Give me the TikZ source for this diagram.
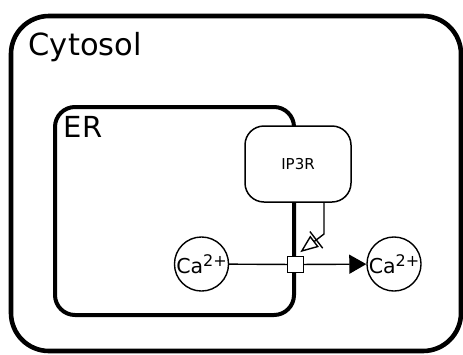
\documentclass[tikz,border=0pt]{standalone}
\usepackage{fontspec}
\setmainfont{DejaVu Sans}
\usetikzlibrary{arrows.meta}

\newcommand{\calcium}{Ca\raisebox{7.5pt}{\fontsize{16}{16}\selectfont 2+}}

\begin{document}
\begin{tikzpicture}[x=1pt,y=-1pt,
    compartment/.style={draw,rounded corners=38pt,line width=4.6pt,
      inner sep=0pt},
    label/.style={anchor=base west,inner sep=0pt},
    macromolecule/.style={draw,fill=white,rounded corners=19pt,
      line width=1.5pt,minimum width=106pt,minimum height=76pt,
      font=\fontsize{15}{18}\selectfont},
    species/.style={draw,fill=white,circle,line width=1.4pt,
      minimum size=53pt,inner sep=0pt,font=\fontsize{20.5}{24}\selectfont},
    processnode/.style={draw,fill=white,line width=1.4pt,
      minimum size=16pt,inner sep=0pt},
    flux/.style={line width=1.4pt}]
    \useasboundingbox (0,0) rectangle (463,354);
    \node[compartment,minimum width=450pt,minimum height=335pt] (cytosol)
      at (236,183.5) {};
    \node[compartment,rounded corners=20pt,line width=4pt,
      minimum width=239pt,minimum height=208pt] (er) at (174.5,211) {};
    \node[label,font=\fontsize{30.5}{36}\selectfont] (cytosollabel)
      at (28.5,55) {Cytosol};
    \node[label,font=\fontsize{29}{34}\selectfont] (erlabel)
      at (63.5,137) {ER};
    \node[macromolecule] (ip3r) at (298,164) {IP3R};
    \node[species] (cain) at (201.5,264) {\calcium};
    \node[species] (caout) at (394,264) {\calcium};
    \node[processnode] (transport) at (295.5,264.5) {};
    \coordinate (bend) at (324,234);
    \draw[flux] (cain) -- (transport);
    \draw[flux,-{Triangle[length=17pt,width=19pt]}] (transport) -- (caout);
    \draw[flux,shorten >=6pt,
      -{Bar[width=21pt,sep=1.5pt]Triangle[open,length=18pt,width=14pt]}]
      (ip3r.south -| bend) -- (bend) -- (transport.north);
  \end{tikzpicture}
\end{document}
